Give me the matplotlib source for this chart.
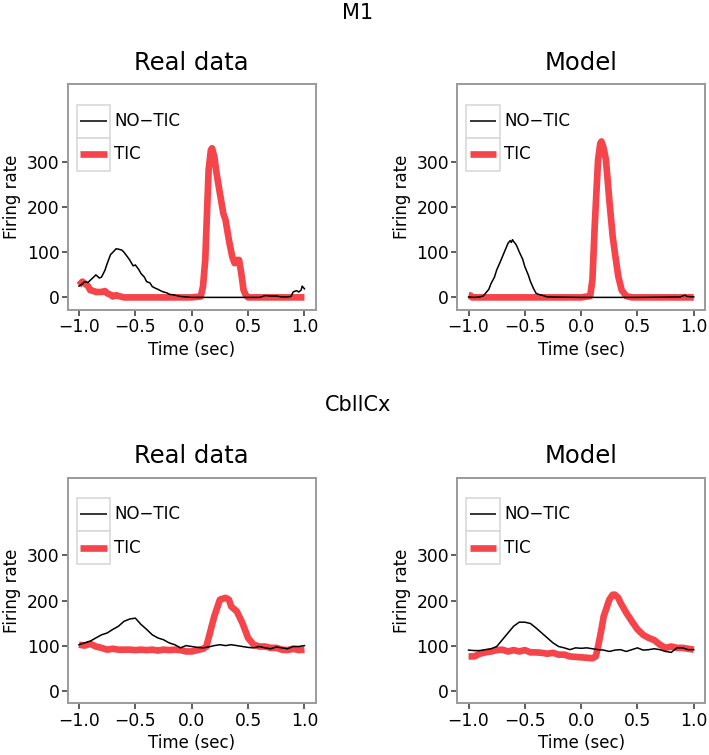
import numpy as np
import matplotlib.pyplot as plt
from matplotlib.patches import Rectangle

# ---- data ----
t_grid = np.round(np.arange(-1.0, 1.0001, 0.05), 2)

# M1, real data
m1_real_notic_t = [-1.0, -0.97, -0.95, -0.92, -0.9, -0.87, -0.85, -0.82, -0.8, -0.77, -0.75, -0.72,
                   -0.7, -0.67, -0.65, -0.62, -0.6, -0.57, -0.55, -0.52, -0.5, -0.47, -0.45, -0.42,
                   -0.4, -0.37, -0.35, -0.32, -0.3, -0.27, -0.25, -0.22, -0.2, -0.15, -0.1, -0.05,
                   0.0, 0.3, 0.6, 0.63, 0.65, 0.7, 0.75, 0.8, 0.85, 0.88, 0.9, 0.93, 0.95, 0.97, 0.98, 1.0]
m1_real_notic = [25, 30, 35, 33, 38, 45, 50, 43, 45, 60, 75, 95, 100, 108, 107, 105, 100, 90, 83, 70,
                 72, 62, 53, 45, 35, 32, 24, 20, 18, 14, 12, 10, 7, 5, 2, 1,
                 0, 0, 0, 2, 4, 3, 3, 1, 1, 2, 12, 15, 12, 16, 25, 19]
m1_real_tic_t = [-1.0, -0.97, -0.95, -0.92, -0.9, -0.87, -0.85, -0.8, -0.77, -0.75, -0.72, -0.7, -0.67,
                 -0.65, -0.6, 0.0, 0.08, 0.1, 0.12, 0.15, 0.17, 0.18, 0.2, 0.22, 0.25, 0.28, 0.3,
                 0.33, 0.36, 0.38, 0.4, 0.42, 0.44, 0.46, 0.48, 0.5, 1.0]
m1_real_tic = [27, 35, 31, 25, 16, 14, 12, 12, 14, 9, 6, 2, 5, 3, 0, 0, 2, 24, 83, 283, 327, 331,
               313, 276, 231, 187, 172, 127, 90, 76, 83, 83, 53, 16, 5, 0, 0]

# M1, model
m1_model_notic_t = [-1.0, -0.95, -0.9, -0.87, -0.85, -0.82, -0.8, -0.77, -0.75, -0.72, -0.7, -0.67,
                    -0.65, -0.63, -0.62, -0.61, -0.6, -0.58, -0.57, -0.55, -0.52, -0.5, -0.47, -0.45,
                    -0.42, -0.4, -0.37, -0.35, -0.3, 0.0, 0.5, 0.88, 0.9, 0.92, 0.94, 1.0]
m1_model_notic = [1, 0, 1, 3, 9, 18, 31, 45, 61, 78, 90, 108, 120, 126, 122, 128, 124, 118, 113, 101,
                  85, 68, 50, 35, 18, 9, 6, 5, 1, 0, 0, 1, 3, 5, 2, 1]
m1_model_tic_t = [-1.0, -0.98, -0.97, 0.0, 0.08, 0.1, 0.12, 0.15, 0.17, 0.18, 0.2, 0.22, 0.25,
                  0.28, 0.3, 0.33, 0.36, 0.4, 0.45, 1.0]
m1_model_tic = [5, 4, 0, 0, 3, 39, 157, 305, 342, 346, 331, 305, 216, 135, 98, 46, 16, 3, 0, 0]

# CbllCx, real data (41 points on t_grid)
cb_real_notic = [102, 106, 110, 117, 124, 128, 136, 143, 154, 159, 161, 147, 136, 124, 117, 113, 106,
                 102, 95, 100, 98, 96, 95, 97, 100, 102, 100, 102, 100, 98, 96, 95, 98, 95, 93, 97,
                 95, 93, 98, 98, 100]
cb_real_tic_t = [-1.0, -0.95, -0.9, -0.85, -0.8, -0.75, -0.7, -0.65, -0.6, -0.55, -0.5, -0.45, -0.4,
                 -0.35, -0.3, -0.25, -0.2, -0.15, -0.1, -0.05, 0.0, 0.05, 0.1, 0.13, 0.15, 0.2, 0.25,
                 0.3, 0.33, 0.35, 0.4, 0.45, 0.5, 0.55, 0.6, 0.65, 0.7, 0.75, 0.8, 0.85, 0.9, 0.95, 1.0]
cb_real_tic = [102, 100, 104, 98, 95, 91, 93, 91, 91, 91, 90, 91, 90, 91, 89, 91, 90, 91, 90, 87, 87,
               90, 93, 98, 117, 165, 202, 206, 202, 187, 176, 150, 117, 102, 98, 98, 95, 95, 91, 90,
               93, 90, 91]

# CbllCx, model (41 points on t_grid)
cb_model_notic = [90, 89, 89, 91, 93, 98, 113, 128, 143, 152, 152, 149, 139, 128, 117, 106, 98, 95,
                  91, 95, 94, 95, 93, 91, 90, 87, 90, 91, 87, 91, 95, 90, 91, 93, 91, 87, 85, 95, 95,
                  91, 91]
cb_model_tic_t = [-1.0, -0.95, -0.9, -0.85, -0.8, -0.75, -0.7, -0.65, -0.6, -0.55, -0.5, -0.45, -0.4,
                  -0.35, -0.3, -0.25, -0.2, -0.15, -0.1, -0.05, 0.0, 0.05, 0.1, 0.13, 0.15, 0.18, 0.2,
                  0.25, 0.28, 0.3, 0.33, 0.35, 0.4, 0.45, 0.5, 0.55, 0.6, 0.65, 0.7, 0.75, 0.8, 0.85,
                  0.9, 0.95, 1.0]
cb_model_tic = [76, 76, 82, 85, 87, 90, 91, 87, 90, 87, 90, 85, 85, 84, 82, 84, 80, 80, 76, 75, 74,
                73, 72, 76, 98, 136, 165, 202, 213, 213, 206, 195, 173, 154, 136, 124, 117, 112, 102,
                95, 98, 95, 95, 93, 91]

panels = [
    ("Real data", m1_real_notic_t, m1_real_notic, m1_real_tic_t, m1_real_tic),
    ("Model", m1_model_notic_t, m1_model_notic, m1_model_tic_t, m1_model_tic),
    ("Real data", t_grid, cb_real_notic, cb_real_tic_t, cb_real_tic),
    ("Model", t_grid, cb_model_notic, cb_model_tic_t, cb_model_tic),
]

red = '#F5444A'
spine_col = '#9a9a9a'

plt.rcParams['font.family'] = 'DejaVu Sans'

fig = plt.figure(figsize=(7.09, 7.55), dpi=100)

# axes boxes in figure fractions (left, bottom, width, height)
boxes = [(0.0955, 0.5894, 0.3498, 0.299), (0.645, 0.5894, 0.3494, 0.299),
         (0.0955, 0.0685, 0.3498, 0.299), (0.645, 0.0685, 0.3494, 0.299)]

for (title, tn, yn, tt, yt), box in zip(panels, boxes):
    ax = fig.add_axes(box)
    ax.plot(tt, yt, color=red, lw=4.8, solid_capstyle='butt', solid_joinstyle='round', zorder=2)
    ax.plot(tn, yn, color='black', lw=1.1, zorder=3)
    ax.set_xlim(-1.1, 1.1)
    ax.set_ylim(-28, 473)
    ax.set_xticks([-1.0, -0.5, 0.0, 0.5, 1.0])
    ax.set_xticklabels(['\u22121.0', '\u22120.5', '0.0', '0.5', '1.0'])
    ax.set_yticks([0, 100, 200, 300])
    ax.tick_params(labelsize=12.3, length=4, width=1.1, color='#333333', pad=2)
    for s in ax.spines.values():
        s.set_color(spine_col)
        s.set_linewidth(1.4)
    ax.set_xlabel('Time (sec)', fontsize=12, labelpad=3)
    ax.set_ylabel('Firing rate', fontsize=12, labelpad=4)
    ax.set_title(title, fontsize=17.5, pad=10.5)

    # ggplot-style legend keys
    for i, (lab, c, lw) in enumerate([('NO\u2212TIC', 'black', 1.1), ('TIC', red, 4.8)]):
        y0 = 0.763 - i * 0.147
        ax.add_patch(Rectangle((0.036, y0), 0.135, 0.147, transform=ax.transAxes,
                               facecolor='white', edgecolor='#d9d9d9', lw=1.2, zorder=4))
        ax.plot([0.05, 0.157], [y0 + 0.0735] * 2, transform=ax.transAxes, color=c, lw=lw,
                solid_capstyle='butt', zorder=5)
        ax.text(0.188, y0 + 0.0735, lab, transform=ax.transAxes, fontsize=12, va='center', zorder=5)

fig.text(0.505, 0.983, 'M1', fontsize=15, ha='center', va='center')
fig.text(0.505, 0.464, 'CbllCx', fontsize=15, ha='center', va='center')

fig.savefig('out.png', dpi=100)
